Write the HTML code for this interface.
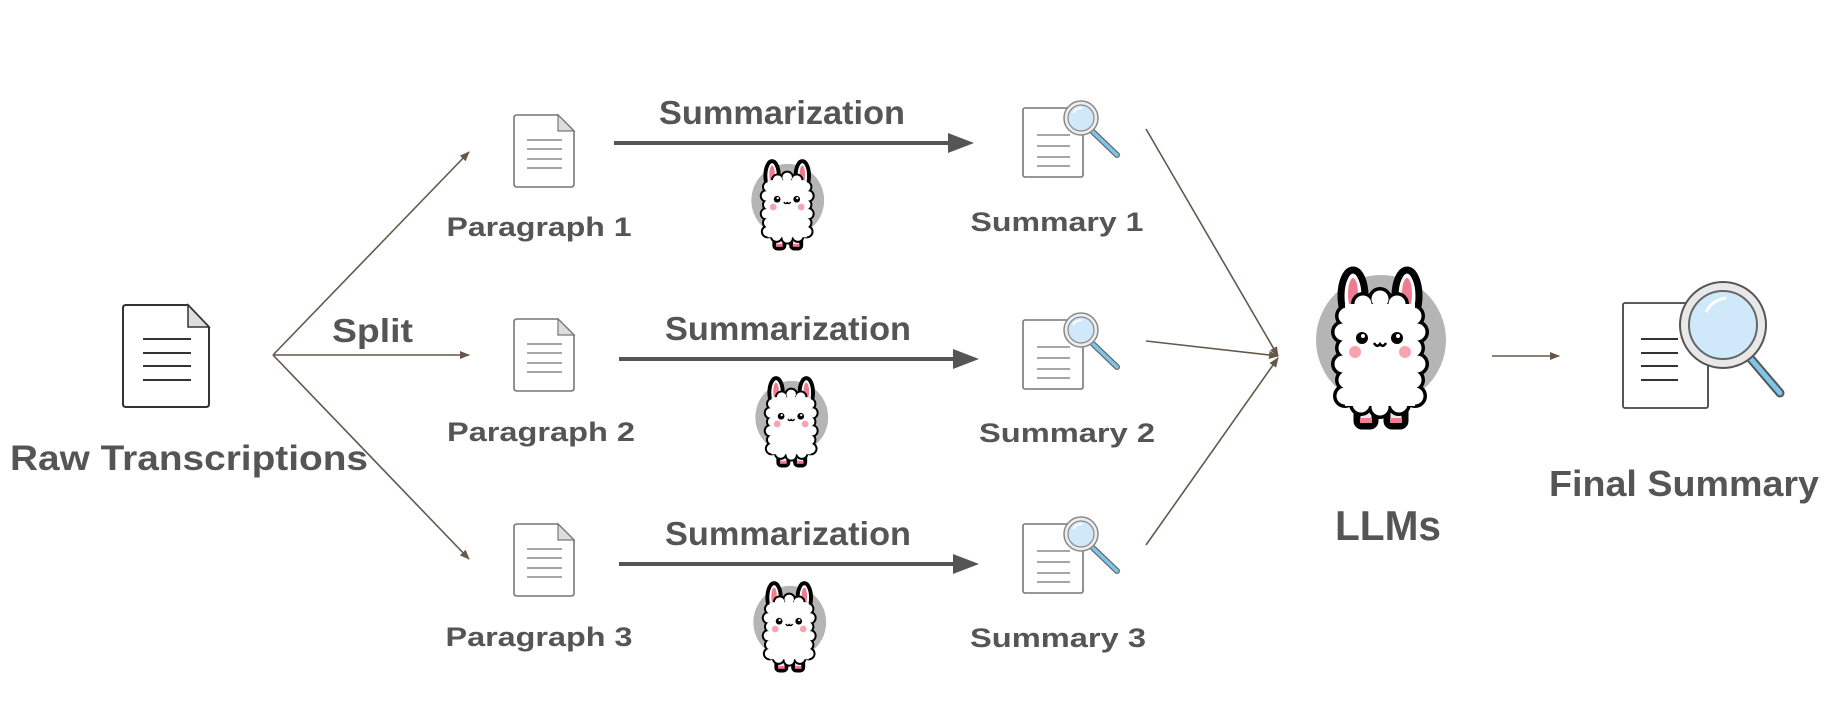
<!DOCTYPE html>
<html><head><meta charset="utf-8"><style>
html,body{margin:0;padding:0;background:#fff;}
svg{display:block;}
text{font-family:"Liberation Sans",sans-serif;font-weight:bold;fill:#555;}
</style></head><body>
<svg width="1838" height="706" viewBox="0 0 1838 706" xmlns="http://www.w3.org/2000/svg">
<defs>
<marker id="ah" markerWidth="10" markerHeight="8" refX="9" refY="4" orient="auto" markerUnits="userSpaceOnUse">
<path d="M0,0 L10,4 L0,8 Z" fill="#65584a"/></marker>
<g id="llama">
<circle cx="46" cy="72" r="65" fill="#b5b5b5"/>
<g stroke="#000" stroke-width="7" stroke-linejoin="round">
<ellipse cx="18" cy="28" rx="12" ry="26" fill="#fff"/>
<ellipse cx="72" cy="28" rx="12" ry="26" fill="#fff"/>
<rect x="22" y="126" width="18" height="32" rx="5" fill="#e6ecec"/>
<rect x="52" y="126" width="18" height="32" rx="5" fill="#e6ecec"/>
</g>
<ellipse cx="18" cy="26" rx="5" ry="16" fill="#ee7d92"/>
<ellipse cx="72" cy="26" rx="5" ry="16" fill="#ee7d92"/>
<g fill="#000">
<circle cx="12" cy="48" r="12"/><circle cx="8" cy="64" r="12"/><circle cx="12" cy="80" r="12"/><circle cx="8" cy="96" r="12"/><circle cx="12" cy="112" r="12"/><circle cx="10" cy="128" r="12"/>
<circle cx="78" cy="48" r="12"/><circle cx="82" cy="64" r="12"/><circle cx="78" cy="80" r="12"/><circle cx="82" cy="96" r="12"/><circle cx="78" cy="112" r="12"/><circle cx="80" cy="128" r="12"/>
<circle cx="28" cy="36" r="12"/><circle cx="45" cy="31" r="12"/><circle cx="62" cy="36" r="12"/>
<circle cx="26" cy="136" r="12"/><circle cx="45" cy="139" r="12"/><circle cx="64" cy="136" r="12"/>
</g>
<g fill="#fff">
<circle cx="12" cy="48" r="8.5"/><circle cx="8" cy="64" r="8.5"/><circle cx="12" cy="80" r="8.5"/><circle cx="8" cy="96" r="8.5"/><circle cx="12" cy="112" r="8.5"/><circle cx="10" cy="128" r="8.5"/>
<circle cx="78" cy="48" r="8.5"/><circle cx="82" cy="64" r="8.5"/><circle cx="78" cy="80" r="8.5"/><circle cx="82" cy="96" r="8.5"/><circle cx="78" cy="112" r="8.5"/><circle cx="80" cy="128" r="8.5"/>
<circle cx="28" cy="36" r="8.5"/><circle cx="45" cy="31" r="8.5"/><circle cx="62" cy="36" r="8.5"/>
<circle cx="26" cy="136" r="8.5"/><circle cx="45" cy="139" r="8.5"/><circle cx="64" cy="136" r="8.5"/>
<rect x="10" y="36" width="70" height="102"/>
</g>
<rect x="25" y="150" width="12" height="5" fill="#ee7d92"/>
<rect x="55" y="150" width="12" height="5" fill="#ee7d92"/>
<circle cx="27" cy="70" r="6" fill="#000"/><circle cx="62" cy="70" r="6" fill="#000"/>
<circle cx="28" cy="68" r="2" fill="#fff"/><circle cx="63" cy="68" r="2" fill="#fff"/>
<circle cx="20" cy="84" r="6" fill="#f7a3b0"/><circle cx="70" cy="84" r="6" fill="#f7a3b0"/>
<path d="M39,75 Q42,80 45,76 Q48,80 51,75" fill="none" stroke="#000" stroke-width="2.5"/>
</g>
<g id="para">
<path d="M0,3 Q0,0 3,0 L44,0 L60,16 L60,69 Q60,72 57,72 L3,72 Q0,72 0,69 Z" fill="#fff" stroke="#777" stroke-width="1.6"/>
<path d="M44,0 L44,16 L60,16 Z" fill="#ddd" stroke="#777" stroke-width="1.2"/>
<g stroke="#888" stroke-width="1.6"><line x1="13" y1="25" x2="48" y2="25"/><line x1="13" y1="34" x2="48" y2="34"/><line x1="13" y1="44" x2="48" y2="44"/><line x1="13" y1="53" x2="48" y2="53"/></g>
</g>
<g id="summ">
<rect x="0" y="0" width="60" height="69" rx="2" fill="#fff" stroke="#777" stroke-width="1.6"/>
<g stroke="#888" stroke-width="1.6"><line x1="14" y1="27" x2="47" y2="27"/><line x1="14" y1="38" x2="47" y2="38"/><line x1="14" y1="49" x2="47" y2="49"/><line x1="14" y1="58" x2="47" y2="58"/></g>
<line x1="70" y1="24" x2="94" y2="47" stroke="#666" stroke-width="6" stroke-linecap="round"/>
<line x1="70" y1="24" x2="94" y2="47" stroke="#7cc6ea" stroke-width="3.5" stroke-linecap="round"/>
<circle cx="58" cy="10" r="17" fill="#eee" stroke="#888" stroke-width="1.5"/>
<circle cx="58" cy="10" r="13" fill="#cfe9fb" stroke="#888" stroke-width="1.2"/>
<path d="M50,5 Q53,0 59,0" fill="none" stroke="#fff" stroke-width="2"/>
</g>
</defs>

<path d="M123,308 Q123,305 126,305 L188,305 L209,327 L209,404 Q209,407 206,407 L126,407 Q123,407 123,404 Z" fill="#fff" stroke="#333" stroke-width="2"/>
<path d="M188,305 L188,327 L209,327 Z" fill="#ddd" stroke="#333" stroke-width="1.5"/>
<g stroke="#333" stroke-width="2"><line x1="143" y1="339" x2="191" y2="339"/><line x1="143" y1="353" x2="191" y2="353"/><line x1="143" y1="366" x2="191" y2="366"/><line x1="143" y1="380" x2="191" y2="380"/></g>
<text x="10" y="470" font-size="35" textLength="358" lengthAdjust="spacingAndGlyphs">Raw  Transcriptions</text>

<g stroke="#65584a" stroke-width="1.6" fill="none">
<line x1="273" y1="355" x2="469" y2="152" marker-end="url(#ah)"/>
<line x1="273" y1="355" x2="469" y2="355" marker-end="url(#ah)"/>
<line x1="273" y1="355" x2="469" y2="559" marker-end="url(#ah)"/>
</g>
<text x="332" y="342" font-size="33" textLength="81" lengthAdjust="spacingAndGlyphs">Split</text>

<use href="#para" x="514" y="115"/>
<use href="#para" x="514" y="319"/>
<use href="#para" x="514" y="524"/>
<text x="539" y="236" font-size="27" text-anchor="middle" textLength="185" lengthAdjust="spacingAndGlyphs">Paragraph 1</text>
<text x="541" y="441" font-size="27" text-anchor="middle" textLength="188" lengthAdjust="spacingAndGlyphs">Paragraph 2</text>
<text x="539" y="646" font-size="27" text-anchor="middle" textLength="187" lengthAdjust="spacingAndGlyphs">Paragraph 3</text>

<g fill="#555">
<rect x="614" y="141" width="340" height="4"/><path d="M948,133 L974,143 L948,153 Z"/>
<rect x="619" y="357" width="340" height="4"/><path d="M953,349 L979,359 L953,369 Z"/>
<rect x="619" y="562" width="340" height="4"/><path d="M953,554 L979,564 L953,574 Z"/>
</g>
<text x="782" y="124" font-size="33" text-anchor="middle" textLength="246" lengthAdjust="spacingAndGlyphs">Summarization</text>
<text x="788" y="340" font-size="33" text-anchor="middle" textLength="246" lengthAdjust="spacingAndGlyphs">Summarization</text>
<text x="788" y="545" font-size="33" text-anchor="middle" textLength="246" lengthAdjust="spacingAndGlyphs">Summarization</text>

<use href="#llama" transform="translate(762,160) scale(0.56)"/>
<use href="#llama" transform="translate(766,377) scale(0.56)"/>
<use href="#llama" transform="translate(764,582) scale(0.56)"/>

<use href="#summ" x="1023" y="108"/>
<use href="#summ" x="1023" y="320"/>
<use href="#summ" x="1023" y="524"/>
<text x="1057" y="231" font-size="27" text-anchor="middle" textLength="173" lengthAdjust="spacingAndGlyphs">Summary 1</text>
<text x="1067" y="442" font-size="27" text-anchor="middle" textLength="176" lengthAdjust="spacingAndGlyphs">Summary 2</text>
<text x="1058" y="647" font-size="27" text-anchor="middle" textLength="176" lengthAdjust="spacingAndGlyphs">Summary 3</text>

<g stroke="#65584a" stroke-width="1.6" fill="none">
<line x1="1146" y1="129" x2="1278" y2="356" marker-end="url(#ah)"/>
<line x1="1146" y1="341" x2="1278" y2="356" marker-end="url(#ah)"/>
<line x1="1146" y1="545" x2="1278" y2="358" marker-end="url(#ah)"/>
<line x1="1492" y1="356" x2="1559" y2="356" marker-end="url(#ah)"/>
</g>

<use href="#llama" transform="translate(1335,268)"/>
<text x="1388" y="540" font-size="42" text-anchor="middle" textLength="106" lengthAdjust="spacingAndGlyphs">LLMs</text>

<rect x="1623" y="303" width="85" height="105" rx="2" fill="#fff" stroke="#444" stroke-width="1.8"/>
<g stroke="#333" stroke-width="2"><line x1="1641" y1="339" x2="1678" y2="339"/><line x1="1641" y1="353" x2="1678" y2="353"/><line x1="1641" y1="366" x2="1678" y2="366"/><line x1="1641" y1="380" x2="1678" y2="380"/></g>
<line x1="1745" y1="352" x2="1780" y2="393" stroke="#555" stroke-width="9" stroke-linecap="round"/>
<line x1="1745" y1="352" x2="1780" y2="393" stroke="#7cc6ea" stroke-width="5" stroke-linecap="round"/>
<circle cx="1723" cy="325" r="43" fill="#e8e8e8" stroke="#555" stroke-width="2"/>
<circle cx="1723" cy="325" r="34" fill="#cfe9fb" stroke="#666" stroke-width="2"/>
<path d="M1706,312 Q1712,300 1726,298" fill="none" stroke="#fff" stroke-width="3"/>
<text x="1684" y="496" font-size="36" text-anchor="middle" textLength="270" lengthAdjust="spacingAndGlyphs">Final Summary</text>
</svg>
</body></html>
